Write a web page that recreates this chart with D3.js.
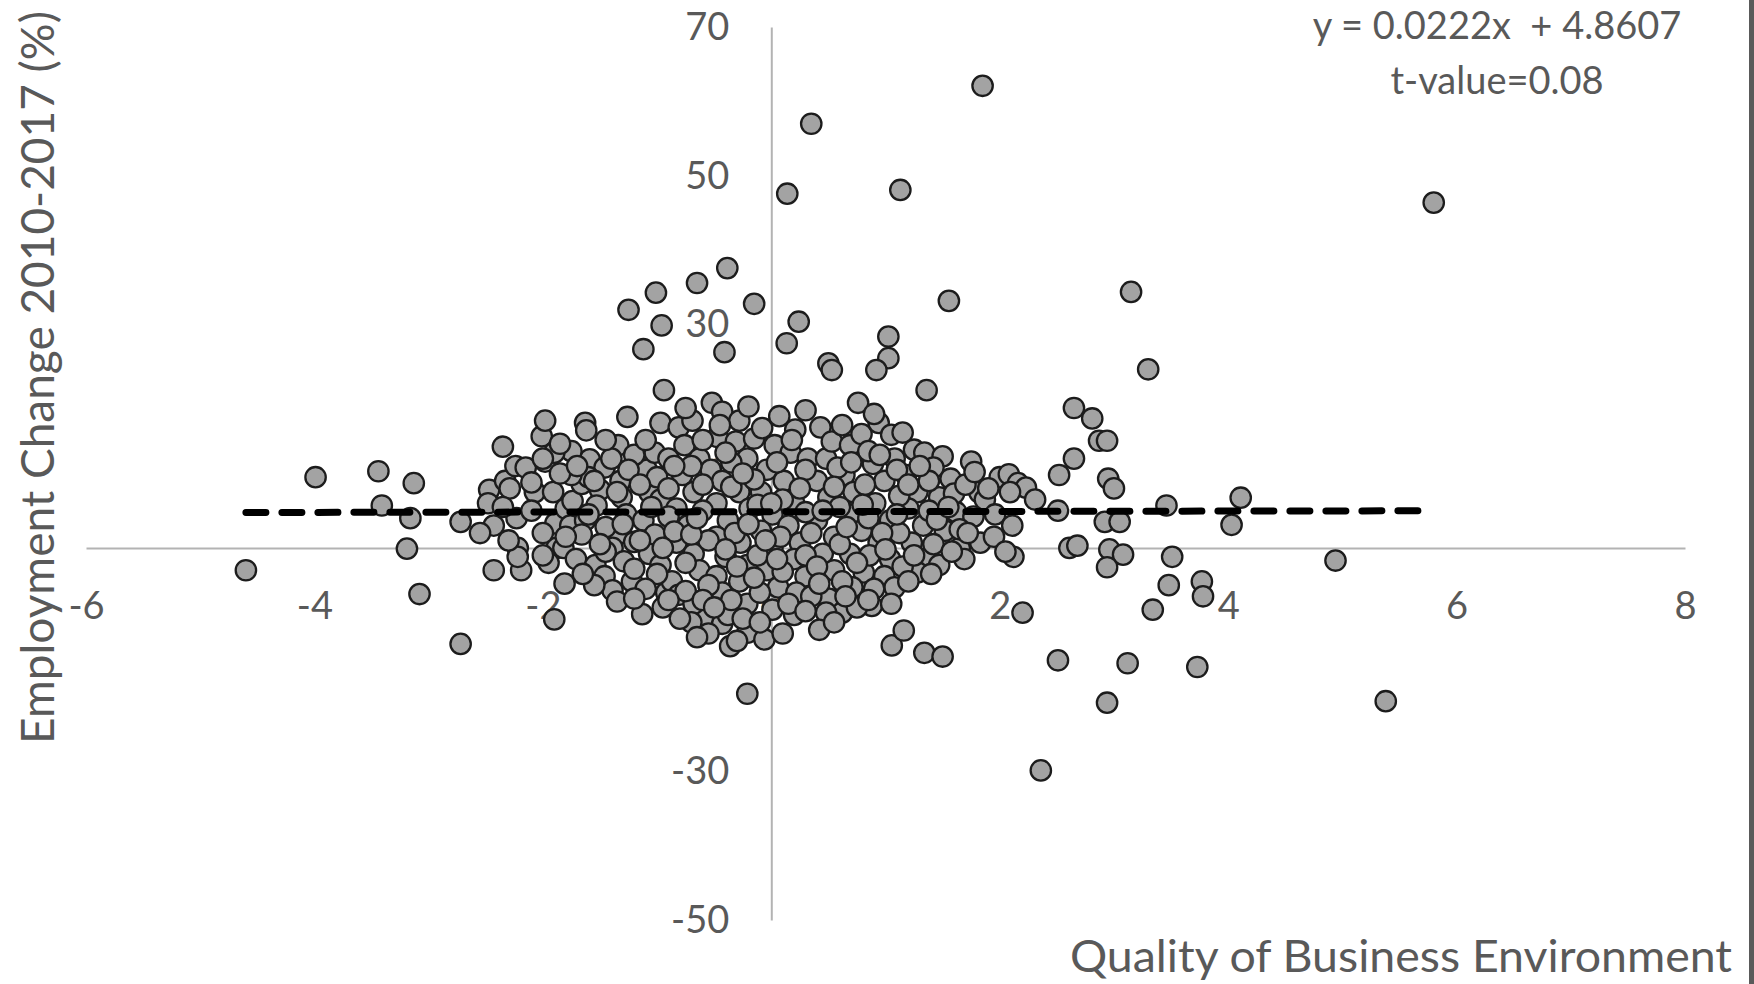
<!DOCTYPE html>
<html>
<head>
<meta charset="utf-8">
<script src="https://cdn.jsdelivr.net/npm/d3@7"></script>
<style>
  body { margin: 0; background: #ffffff; }
  svg { display: block; }
</style>
</head>
<body>
<svg id="chart" width="1754" height="984"></svg>
<script>
// Quality of business environment (x) and employment change 2010-2017 in % (y), one entry per region
const quality = [
  1.85, 0.35, 0.14, 1.13, 5.8, -0.385, -0.65, -1.01, -1.25, -0.15, 3.15, 1.555, -0.96, 0.24, -1.12, -0.41, 0.135, 1.025, 1.025, 0.5,
  0.53, 0.92, 3.3, 1.36, -0.94, 0.76, 2.65, 2.81, 2.87, 2.94, 2.65, 2.52, 2.95, 3.0, 3.46, 4.11, 4.03, 2.51, 2.92, 3.05,
  2.61, 2.68, 2.12, 2.96, 3.08, 3.51, 2.94, 4.94, 3.77, 3.48, 3.78, 3.34, 2.2, 2.51, 3.12, 3.73, 2.94, 5.38, 2.36, -0.21,
  1.055, 1.16, 1.34, 1.5, 0.88, -2.72, -1.9, -3.08, -4.6, -3.99, -3.44, -3.13, -3.41, -3.16, -3.19, -2.72, -2.35, -2.43, -2.19, -2.22,
  -2.22, -1.81, -1.13, -0.92,
  -2.47, -2.48, -2.43, -2.33, -2.29, -2.24, -2.15, -2.23, -2.07, -2.01, -1.98, -1.98, -1.91, -1.89, -1.88, -1.82, -1.8, -1.76, -1.74, -1.66,
  -1.63, -1.62, -1.59, -1.5, -1.46, -1.53, -1.63, -1.66, -1.71, -1.54, -1.46, -1.39, -1.34, -1.26, -1.32, -1.31, -1.27, -1.35, -1.39, -1.29,
  -1.22, -1.15, -1.09, -1.02, -0.97, -0.9, -1.07, -0.97, -1.12, -1.02, -1.07, -0.97, -0.87, -0.81, -0.81, -0.69, -0.76, -0.63, -0.78, -0.68,
  -0.83, -0.73, -0.83, -0.68, -0.63, -0.57, -0.68, -0.52, -0.43, -0.47, -0.53, -0.43, -0.48, -0.38, -0.48, -0.4, -0.48, -0.43, -0.43, -0.36,
  -0.38, -0.31, -0.28, -0.21, -0.28, -0.19, -0.27, -0.21, -0.28, -0.21, -0.21, -0.06, -0.15, -0.08, -0.04, -0.09, 0.01, -0.09, 0.01, -0.04,
  0.06, 0.01, 0.07, 0.03, 0.17, 0.21, 0.11, 0.2, 0.15, 0.25, 0.2, 0.3, 0.22, 0.32, 0.43, 0.48, 0.53, 0.4, 0.5, 0.4,
  0.55, 0.45, 0.55, 0.5, 0.62, 0.48, 0.62, 0.69, 0.79, 0.64, 0.72, 0.69, 0.79, 0.69, 0.81, 0.71, 0.94, 1.05, 0.89, 0.99,
  0.91, 1.04, 0.94, 1.04, 0.99, 1.08, 1.25, 1.34, 1.08, 1.18, 1.28, 1.2, 1.33, 1.23, 1.36, 1.28, 1.5, 1.42, 1.57, 1.47,
  1.62, 1.52, 1.65, 1.47, 1.75, 1.82, 1.77, 1.83, 1.69, 2.0, 2.08, 2.16, 2.23, 2.09, 2.31, 1.87, 1.96, 2.11,
  -1.2, -1.0, -0.9, -0.85, -0.7, -0.6, -0.55, -0.55, -0.35, -0.35, -0.32, -0.3, -0.15, -0.12, -0.12, -0.1, 0.05, 0.1, 0.08, 0.1,
  0.3, 0.3, 0.3, 0.35, 0.58, 0.6, 0.6, 0.62, 0.85, 0.82, 0.85, 0.86, 0.9, 1.1, 1.12, 1.12, 1.15, 1.38, 1.38, 1.42,
  1.6, 1.65, -1.45, -1.45, -1.6, -1.2, -1.2, -1.75, -2.0, -2.1, -1.95, -0.95, -0.75, -0.25, 0.2, 0.42, -0.55, -0.7, 0.75, -1.1,
  -0.2, 0.3, -1.75, -1.85,
  -1.9, -1.7, -1.55, -1.4, -1.35, -1.25, -1.15, -1.05, -1.3, -1.15, -0.95, -1.0, -1.1, -0.9, -0.75, -0.7, -0.65, -0.9, -0.85, -0.6,
  -0.6, -0.4, -0.45, -0.25, -0.2, -0.4, -0.35, -0.15, -0.05, 0.0, 0.05, 0.15, 0.25, 0.18, 0.35, 0.45, 0.4, 0.42, 0.55, 0.7,
  0.66, 0.75, 0.8, 0.95, 0.97, 1.0, 1.1, 1.2, 1.25, 1.3, 1.45, 1.55, 1.58, 1.7, 1.72, 1.9, 1.78, -2.35, -2.1, -2.0,
  -1.8, -1.6, -1.5, -1.55, -1.35, -1.2, -0.8, -0.6, -0.5, -0.1, 0.1, 0.3, 0.55, 0.85, 1.05, 1.2, 1.4, -0.3, -0.65, 0.65,
  -2.3, -2.0, -1.65, -2.55, 1.95, 2.05, 0.9, 1.15, -0.75, -1.45, -1.85
];
const employmentChange = [
  62.1, 57.0, 47.6, 48.1, 46.4, 37.6, 35.6, 34.3, 32.0, 32.8, 34.4, 33.2, 29.9, 30.4, 26.7, 26.3, 27.5, 28.4, 25.5, 24.8,
  23.9, 23.9, 24.0, 21.2, 21.2, 19.5, 18.8, 17.4, 14.4, 14.4, 12.0, 9.8, 9.3, 8.0, 5.7, 6.75, 3.1, 5.0, 3.5, 3.5,
  0.0, 0.3, -1.2, -0.2, -0.9, -1.2, -2.6, -1.7, -4.5, -5.0, -6.5, -8.3, -8.7, -15.1, -15.5, -16.0, -20.8, -20.6, -29.9, -19.6,
  -13.1, -11.1, -14.1, -14.6, -7.8, -12.9, -9.6, -6.2, -3.0, 9.5, 10.3, 8.7, 5.7, 4.0, -0.1, 3.5, 13.6, -3.0, -3.0, 0.0,
  -1.2, -4.8, -8.9, -6.0,
  7.8, 6.0, 3.0, 9.0, 8.0, 11.0, 10.8, 4.0, 7.5, 15.0, 17.1, 11.6, 7.5, 3.3, 0.0, 0.0, 5.3, 3.0, 6.3, 8.6,
  16.8, 15.8, 11.9, 7.8, 10.8, 5.7, 3.7, 1.8, -1.5, -2.3, -3.8, -5.7, 13.8, 17.6, 9.0, 6.8, 4.5, 1.8, 0.0, -1.8,
  -4.5, 11.7, 10.5, 12.8, 16.8, 12.0, 7.5, 6.5, 3.7, 1.8, -0.8, -2.3, -4.5, -6.3, 16.2, 17.1, 13.8, 12.0, 9.8, 7.5,
  5.3, 3.0, 0.7, -0.8, -3.0, -9.3, -7.5, 19.5, 18.3, 14.9, 10.5, 9.0, 6.0, 3.7, 1.5, -1.2, -3.8, -6.0, -10.2, -13.2,
  -9.0, 14.3, 17.1, 12.0, 7.5, 5.3, 0.7, -2.3, -4.5, -7.5, -11.4, -12.3, 14.7, 16.1, 10.5, 7.5, 4.5, 2.3, 0.0, -3.0,
  -5.3, -8.3, 17.7, 13.8, 12.8, 15.9, 9.0, 6.0, 3.0, 0.7, -1.5, -3.8, -6.0, 12.0, 16.2, 12.0, 14.3, 9.0, 6.8, 3.7,
  1.5, -0.8, -3.0, -6.8, -8.7, -8.7, 16.5, 13.8, 15.3, 9.8, 7.5, 4.5, 2.3, -0.8, -3.3, -5.3, 16.8, 15.2, 11.3, 9.0,
  6.0, 3.7, 0.7, -1.5, -3.8, -5.3, 13.2, 12.8, 12.0, 9.8, 7.5, 5.3, 3.0, 0.7, -1.5, -3.3, 12.3, 10.8, 9.3, 6.8,
  4.8, 2.3, 0.0, -2.3, 11.6, 7.5, 4.2, 0.7, -1.5, 9.5, 9.9, 8.7, 8.1, 7.5, 6.5, 6.5, 4.5, 3.0,
  12.5, 9.5, 4.2, 2.2, 11.0, 5.0, 1.0, -5.0, 11.5, 8.2, 2.0, -2.5, 9.2, 5.8, -1.0, -6.0, 11.5, 6.5, 1.5, -3.2,
  10.5, 4.8, -1.0, -6.5, 10.8, 5.5, 0.5, -4.5, 13.0, 8.5, 4.0, -1.0, -5.5, 10.5, 7.0, 2.0, -2.5, 9.0, 5.0, 0.5,
  7.3, 2.5, 2.8, -0.5, 9.5, 0.8, -2.8, 9.8, 2.0, 5.0, -2.0, -8.0, -5.8, -9.5, -9.0, -11.0, -11.5, -10.0, -8.0, 14.5,
  19.0, 18.5, 13.0, 10.0,
  12.8, 11.0, 9.0, 12.0, 7.5, 10.5, 8.5, 5.5, 3.2, 1.0, 0.0, -3.5, -5.5, -7.0, -2.0, 1.8, 4.0, 8.0, 11.0, 8.5,
  14.5, 12.8, 16.5, 10.0, 3.2, -0.2, -7.0, -4.0, 1.0, 6.0, -1.5, -7.5, 8.0, 14.5, 2.0, 5.0, -2.5, -4.8, 8.2, 11.5,
  2.8, -2.0, 5.8, 12.5, 2.0, -0.2, 4.5, 8.5, -1.0, 11.0, 3.8, 5.5, -0.5, 8.5, 2.0, 8.0, 10.2, 5.5, 8.8, 12.0,
  1.5, 4.5, 0.5, -5.0, -7.2, -6.8, -9.5, -7.0, -8.0, -10.0, -11.5, -8.5, -10.0, -7.0, -7.5, -4.5, -3.5, -12.5, -12.0, -6.5,
  1.0, -1.0, -3.5, 2.0, 1.5, -0.5, 18.0, 15.5, 18.8, 14.5, 14.0
];

// Axis tick values
const xTicks = [-6, -4, -2, 0, 2, 4, 6, 8];
const yTicks = [70, 50, 30, 10, -10, -30, -50];

// Linear trend fitted to the scatter
const trendSlope = 0.0222;
const trendIntercept = 4.8607;
const tValue = 0.08;

const xTitle = "Quality of Business Environment";
const yTitle = "Employment Change 2010-2017 (%)";

const svg = d3.select("#chart");
const textColor = "#595959";
const font = "Lato, 'Open Sans', sans-serif";
const plainNumber = d => String(d);

const x = d3.scaleLinear().domain([-6, 8]).range([86, 1685]);
const y = d3.scaleLinear().domain([-50, 70]).range([920, 27]);

// Vertical axis crossing at x = 0
const yAxis = d3.axisLeft(y).tickValues(yTicks).tickSize(0).tickPadding(42).tickFormat(plainNumber);
const gy = svg.append("g").attr("transform", `translate(${x(0)},0)`).call(yAxis);

// Horizontal axis crossing at y = 0
const xAxis = d3.axisBottom(x).tickValues(xTicks).tickSize(0).tickPadding(44).tickFormat(plainNumber);
const gx = svg.append("g").attr("transform", `translate(0,${y(0)})`).call(xAxis);

[gx, gy].forEach(g => {
  g.select(".domain").attr("stroke", "#b3b3b3").attr("stroke-width", 2);
  g.selectAll("text")
    .attr("fill", textColor)
    .style("font-family", font)
    .style("font-size", "38px");
});

// Scatter points
const points = quality.map((q, i) => ({ q, e: employmentChange[i] }));
svg.append("g")
  .selectAll("circle")
  .data(points)
  .join("circle")
  .attr("cx", d => x(d.q))
  .attr("cy", d => y(d.e))
  .attr("r", 10.2)
  .attr("fill", "#a3a3a3")
  .attr("stroke", "#1c1c1c")
  .attr("stroke-width", 2.3);

// Dashed trend line across the range of observed x values
const [qMin, qMax] = d3.extent(quality);
svg.append("line")
  .attr("x1", x(qMin))
  .attr("y1", y(trendSlope * qMin + trendIntercept))
  .attr("x2", x(qMax))
  .attr("y2", y(trendSlope * qMax + trendIntercept))
  .attr("stroke", "#000")
  .attr("stroke-width", 7)
  .attr("stroke-linecap", "round")
  .attr("stroke-dasharray", "20 16");

// Regression equation and t statistic
const eqX = 1497;
svg.append("text")
  .attr("x", eqX).attr("y", 39)
  .attr("text-anchor", "middle")
  .attr("fill", textColor)
  .style("font-family", font).style("font-size", "38px")
  .attr("xml:space", "preserve")
  .text(`y = ${trendSlope.toFixed(4)}x  + ${trendIntercept.toFixed(4)}`);
svg.append("text")
  .attr("x", eqX).attr("y", 94)
  .attr("text-anchor", "middle")
  .attr("fill", textColor)
  .style("font-family", font).style("font-size", "38px")
  .text(`t-value=${tValue.toFixed(2)}`);

// Axis titles
svg.append("text")
  .attr("x", 1732).attr("y", 972)
  .attr("text-anchor", "end")
  .attr("fill", textColor)
  .style("font-family", font).style("font-size", "45px")
  .attr("textLength", 662).attr("lengthAdjust", "spacingAndGlyphs")
  .text(xTitle);

svg.append("text")
  .attr("transform", "translate(54,744) rotate(-90)")
  .attr("fill", textColor)
  .style("font-family", font).style("font-size", "46px")
  .attr("textLength", 733).attr("lengthAdjust", "spacingAndGlyphs")
  .text(yTitle);

// Frame edge on the right
svg.append("rect")
  .attr("x", 1749).attr("y", 0).attr("width", 5).attr("height", 984)
  .attr("fill", "#5a5a5a");
</script>
</body>
</html>
